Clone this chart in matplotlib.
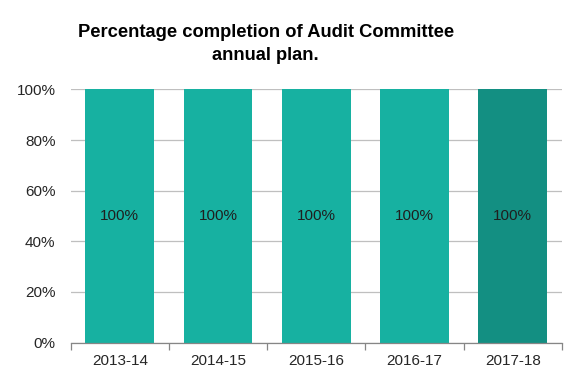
import matplotlib
matplotlib.use("Agg")
import matplotlib.pyplot as plt

plt.rcParams['font.family'] = ['Liberation Sans', 'DejaVu Sans']

years = ["2013-14", "2014-15", "2015-16", "2016-17", "2017-18"]
completion = [100, 100, 100, 100, 100]
colors = ["#17B1A1", "#17B1A1", "#17B1A1", "#17B1A1", "#138F82"]

fig = plt.figure(figsize=(5.84, 3.84), dpi=100)
ax = fig.add_axes([0.121, 0.108, 0.841, 0.659])

x = range(len(years))
bars = ax.bar(x, completion, width=0.70, color=colors, zorder=2)
for b, v in zip(bars, completion):
    ax.text(b.get_x() + b.get_width() / 2, v / 2, f"{v}%", ha="center", va="center",
            fontsize=11, color="#1F1F1F", zorder=3)

ax.set_xlim(-0.5, len(years) - 0.5)
ax.set_ylim(0, 100)
ax.set_yticks(range(0, 101, 20))
ax.set_yticklabels([f"{t}%" for t in range(0, 101, 20)])
ax.yaxis.grid(True, color="#BFBFBF", linewidth=0.9, zorder=0)
ax.set_xticks(list(x))
ax.set_xticklabels(years)
ax.set_xticks([i - 0.5 for i in range(len(years) + 1)], minor=True)
ax.tick_params(axis="x", which="major", length=0, pad=8, labelsize=11, labelcolor="#262626")
ax.tick_params(axis="x", which="minor", length=5, color="#868686", width=0.9)
ax.tick_params(axis="y", length=0, pad=11, labelsize=11, labelcolor="#262626")
for s in ["top", "right", "left"]:
    ax.spines[s].set_visible(False)
ax.spines["bottom"].set_color("#868686")
ax.spines["bottom"].set_linewidth(0.9)

fig.text(0.455, 0.885, "Percentage completion of Audit Committee\nannual plan.",
         ha="center", va="center", multialignment="center",
         fontsize=13.2, fontweight="bold", linespacing=1.45)

fig.savefig("out.png", dpi=100)
